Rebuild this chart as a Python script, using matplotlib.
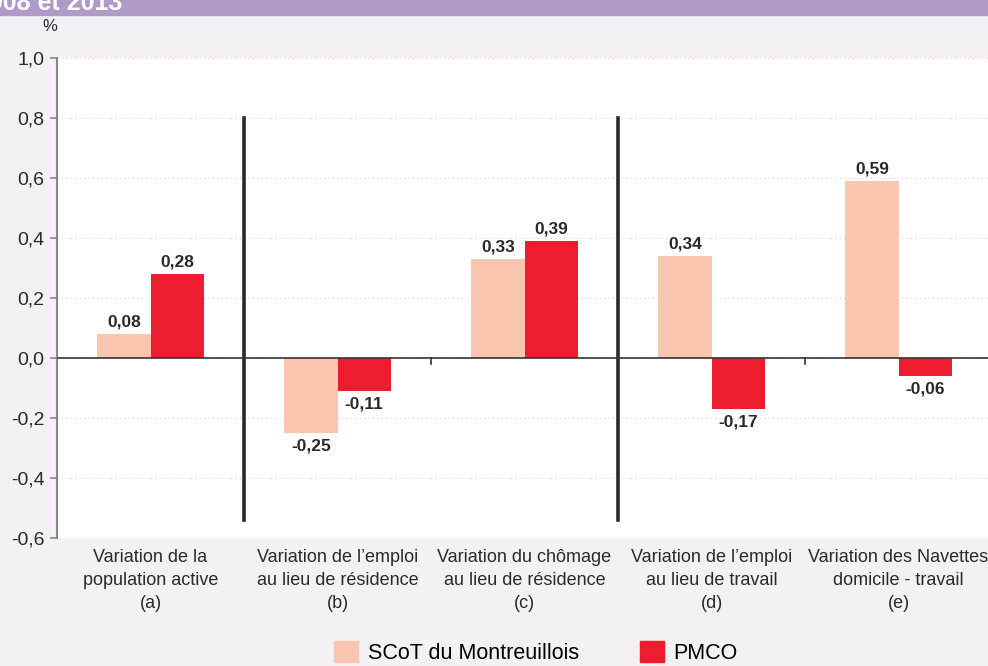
import matplotlib
matplotlib.use("Agg")
import matplotlib.pyplot as plt
from matplotlib.patches import Patch

# Data
categories = ["Variation de la\npopulation active\n(a)",
              "Variation de l\u2019emploi\nau lieu de résidence\n(b)",
              "Variation du chômage\nau lieu de résidence\n(c)",
              "Variation de l\u2019emploi\nau lieu de travail\n(d)",
              "Variation des Navettes\ndomicile - travail\n(e)"]
scot_values = [0.08, -0.25, 0.33, 0.34, 0.59]
pmco_values = [0.28, -0.11, 0.39, -0.17, -0.06]
series_names = ["SCoT du Montreuillois", "PMCO"]
y_ticks = [-0.6, -0.4, -0.2, 0.0, 0.2, 0.4, 0.6, 0.8, 1.0]
separators = [0.5, 2.5]   # between (a)|(b) and (c)|(d)
header_text = "2008 et 2013"

scot_color = "#f9c6b0"
pmco_color = "#ed1c2e"
bg_color = "#f5f0f6"
header_color = "#b09ac8"
text_color = "#2a2a2a"

plt.rcParams["font.family"] = ["Liberation Sans", "DejaVu Sans"]

fig = plt.figure(figsize=(9.88, 6.66), dpi=100, facecolor=bg_color)

# header band
fig.patches.append(plt.Rectangle((0, 1 - 15 / 666), 1, 15 / 666, transform=fig.transFigure,
                                 color=header_color, zorder=0))
fig.text(-0.025, 1 - 3 / 666, header_text, color="white", fontsize=18, fontweight="bold",
         va="center", ha="left")

ax = fig.add_axes([57 / 988, 128 / 666, 935 / 988, 480 / 666])
ax.set_facecolor("white")

x = list(range(len(categories)))
w = 0.285
ax.bar([i - w / 2 for i in x], scot_values, w, color=scot_color, zorder=2)
ax.bar([i + w / 2 for i in x], pmco_values, w, color=pmco_color, zorder=2)

def fmt(v):
    return f"{v:.2f}".replace(".", ",")

for i in x:
    for off, v in ((-w / 2, scot_values[i]), (w / 2, pmco_values[i])):
        if v >= 0:
            ax.annotate(fmt(v), (i + off, v), xytext=(0, 3.5), textcoords="offset points",
                        ha="center", va="bottom", fontsize=12.5, fontweight="bold", color=text_color)
        else:
            ax.annotate(fmt(v), (i + off, v), xytext=(0, -4), textcoords="offset points",
                        ha="center", va="top", fontsize=12.5, fontweight="bold", color=text_color)

for s in separators:
    ax.plot([s, s], [-0.54, 0.8], color="#2a2a2a", lw=2.6, zorder=3)

ax.axhline(0, color="#333333", lw=1.2, zorder=3)
# category boundary ticks on the zero line
for b in [1.5, 3.5]:
    ax.plot([b, b], [0, -0.02], color="#333333", lw=1.2, zorder=3)

ax.set_xlim(-0.5, len(categories) - 0.5)
ax.set_ylim(-0.6, 1.0)
ax.set_yticks(y_ticks)
ax.set_yticklabels([f"{t:.1f}".replace(".", ",") for t in y_ticks], fontsize=14, color=text_color)
ax.yaxis.grid(True, linestyle=(0, (1, 3)), color="#cccccc", lw=0.8)
ax.set_axisbelow(True)

ax.set_xticks(x)
ax.set_xticklabels(categories, fontsize=13, color=text_color, linespacing=1.45)
ax.tick_params(axis="x", length=0, pad=8)
ax.tick_params(axis="y", length=5, color="#888888", width=1.2, pad=4)

for side in ["top", "right", "bottom"]:
    ax.spines[side].set_visible(False)
ax.spines["left"].set_color("#888888")
ax.spines["left"].set_linewidth(1.5)

ax.text(0.0, 1.05, "%", transform=ax.transAxes, fontsize=12, ha="right", va="bottom",
        color=text_color)

handles = [Patch(color=scot_color), Patch(color=pmco_color)]
fig.legend(handles, series_names, loc="upper left", bbox_to_anchor=(315 / 988, 1 - 622 / 666),
           ncol=2, frameon=False, fontsize=15.5, handlelength=1.12, handleheight=1.12,
           handletextpad=0.42, columnspacing=2.84, borderpad=0.4)

fig.savefig("out.png", dpi=100, facecolor=bg_color)
